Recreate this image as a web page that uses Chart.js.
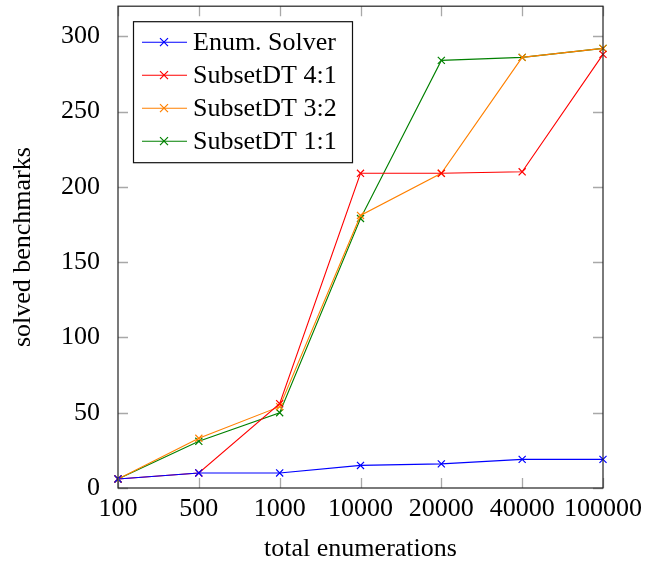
<!DOCTYPE html>
<html>
<head>
<meta charset="utf-8">
<script src="https://cdn.jsdelivr.net/npm/chart.js@4"></script>
<style>
  html, body { margin: 0; padding: 0; background: #fff; }
  #wrap { width: 671px; height: 563px; }
</style>
</head>
<body>
<div id="wrap"><canvas id="chart" width="671" height="563"></canvas></div>
<script>
// data
var enumerations = ['100', '500', '1000', '10000', '20000', '40000', '100000'];
var enumSolver = [6, 10, 10, 15, 16, 19, 19];
var subset41 = [6, 10, 56, 209, 209, 210, 288];
var subset32 = [6, 33, 54, 181, 209, 286, 292];
var subset11 = [6, 31, 50, 179, 284, 286, 292];
var yTicks = [0, 50, 100, 150, 200, 250, 300];

var FONT = "'Liberation Serif', 'DejaVu Serif', serif";

function series(label, values, color) {
    return {
        label: label,
        data: values,
        borderColor: color,
        backgroundColor: color,
        borderWidth: 1.1,
        pointStyle: 'crossRot',
        pointRadius: 5,
        pointBorderWidth: 1.2,
        pointBorderColor: color,
        tension: 0
    };
}

// frame, inward ticks on all four sides, and the legend box
var pgfLook = {
    id: 'pgfLook',
    afterDatasetsDraw: function(chart) {
        var ctx = chart.ctx, a = chart.chartArea;
        var xs = chart.scales.x, ys = chart.scales.y;
        var len = 10;
        ctx.save();
        ctx.strokeStyle = '#a8a8a8';
        ctx.lineWidth = 1.3;
        ctx.beginPath();
        enumerations.forEach(function(c, i) {
            var px = Math.round(xs.getPixelForValue(i)) + 0.5;
            ctx.moveTo(px, a.bottom); ctx.lineTo(px, a.bottom - len);
            ctx.moveTo(px, a.top); ctx.lineTo(px, a.top + len);
        });
        yTicks.forEach(function(v) {
            var py = Math.round(ys.getPixelForValue(v)) + 0.5;
            ctx.moveTo(a.left, py); ctx.lineTo(a.left + len, py);
            ctx.moveTo(a.right, py); ctx.lineTo(a.right - len, py);
        });
        ctx.stroke();

        ctx.strokeStyle = '#222';
        ctx.lineWidth = 1.2;
        ctx.strokeRect(a.left, a.top, a.right - a.left, a.bottom - a.top);

        // legend
        var bx = a.left + 15, by = a.top + 15, bw = 219, bh = 141;
        ctx.fillStyle = '#fff';
        ctx.fillRect(bx, by, bw, bh);
        ctx.strokeStyle = '#111';
        ctx.lineWidth = 1.2;
        ctx.strokeRect(bx + 0.5, by + 0.5, bw, bh);
        ctx.font = '26px ' + FONT;
        ctx.textBaseline = 'middle';
        chart.data.datasets.forEach(function(ds, i) {
            var cy = by + 21 + i * 33;
            ctx.strokeStyle = ds.borderColor;
            ctx.lineWidth = 1.1;
            ctx.beginPath();
            ctx.moveTo(bx + 9, cy); ctx.lineTo(bx + 54, cy);
            ctx.stroke();
            ctx.lineWidth = 1.2;
            ctx.beginPath();
            ctx.moveTo(bx + 27, cy - 4); ctx.lineTo(bx + 35, cy + 4);
            ctx.moveTo(bx + 35, cy - 4); ctx.lineTo(bx + 27, cy + 4);
            ctx.stroke();
            ctx.fillStyle = '#000';
            ctx.fillText(ds.label, bx + 60, cy + 1);
        });
        ctx.restore();
    }
};

new Chart(document.getElementById('chart'), {
    type: 'line',
    data: {
        labels: enumerations,
        datasets: [
            series('Enum. Solver', enumSolver, '#0000ff'),
            series('SubsetDT 4:1', subset41, '#ff0000'),
            series('SubsetDT 3:2', subset32, '#ff8000'),
            series('SubsetDT 1:1', subset11, '#008000')
        ]
    },
    options: {
        responsive: false,
        animation: false,
        layout: { padding: { top: 4, right: 68, left: 0, bottom: 0 } },
        plugins: {
            legend: { display: false },
            tooltip: { enabled: false }
        },
        scales: {
            x: {
                type: 'category',
                offset: false,
                grid: { display: false },
                border: { display: false },
                ticks: {
                    color: '#000',
                    font: { family: FONT, size: 26 },
                    padding: -2,
                    maxRotation: 0,
                    autoSkip: false
                },
                title: {
                    display: true,
                    text: 'total enumerations',
                    color: '#000',
                    font: { family: FONT, size: 26 },
                    padding: { top: 0, bottom: -2 }
                },
                afterFit: function(s) {
                    s.height = 75;
                    s.paddingLeft = 0;
                    s.paddingRight = 0;
                }
            },
            y: {
                min: 0,
                max: 320,
                grid: { display: false },
                border: { display: false },
                afterBuildTicks: function(s) {
                    s.ticks = yTicks.map(function(v) { return { value: v }; });
                },
                ticks: {
                    color: '#000',
                    font: { family: FONT, size: 26 },
                    padding: 10
                },
                title: {
                    display: true,
                    text: 'solved benchmarks',
                    color: '#000',
                    font: { family: FONT, size: 26 },
                    padding: { top: 8, bottom: 0 }
                },
                afterFit: function(s) {
                    s.width = 118;
                    s.paddingTop = 0;
                    s.paddingBottom = 0;
                }
            }
        }
    },
    plugins: [pgfLook]
});
</script>
</body>
</html>
